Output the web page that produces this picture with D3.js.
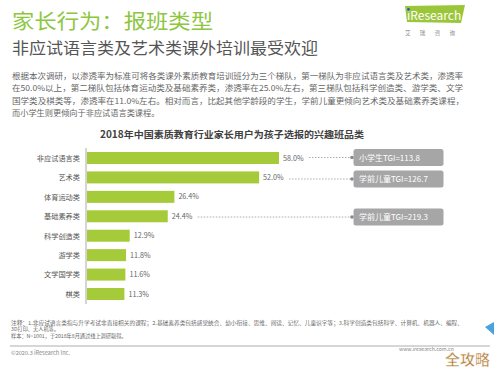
<!DOCTYPE html>
<html><head><meta charset="utf-8">
<script src="https://cdn.jsdelivr.net/npm/d3@7"></script>
<style>body{margin:0;background:#fff}svg{display:block}text{font-family:"Noto Sans CJK SC","Noto Sans",sans-serif}</style>
</head><body>
<svg id="c" width="500" height="369"></svg>
<script>
const categories = ["非应试语言类","艺术类","体育运动类","基础素养类","科学创造类","游学类","文学国学类","棋类"];
const values = [58.0,52.0,26.4,24.4,12.9,11.8,11.6,11.3];
const tgiCategories = ["非应试语言类","艺术类","基础素养类"];
const tgiLabels = ["小学生TGI=113.8","学前儿童TGI=126.7","学前儿童TGI=219.3"];
const tgiBoxY = [157.5, 179, 217];
const chartTitle = "2018年中国素质教育行业家长用户为孩子选报的兴趣班品类";
const paragraph = [
 "根据本次调研，以渗透率为标准可将各类课外素质教育培训班分为三个梯队，第一梯队为非应试语言类及艺术类，渗透率",
 "在50.0%以上，第二梯队包括体育运动类及基础素养类，渗透率在25.0%左右，第三梯队包括科学创造类、游学类、文学",
 "国学类及棋类等，渗透率在11.0%左右。相对而言，比起其他学龄段的学生，学前儿童更倾向艺术类及基础素养类课程，",
 "而小学生则更倾向于非应试语言类课程。"
];
const notes = [
 "注释：1.非应试语言类指与升学考试非直接相关的课程；2.基础素养类包括感觉统合、幼小衔接、思维、阅读、记忆、儿童识字等；3.科学创造类包括科学、计算机、机器人、编程、",
 "3D打印、无人机等。",
 "样本：N=1001，于2018年8月通过线上调研取得。"
];

const svg = d3.select("#c");
const green = "#a6cb3a";

// Header
svg.append("text").attr("x",12).attr("y",29).attr("font-size",20).attr("fill","#8dc63f")
  .attr("textLength",201).attr("lengthAdjust","spacingAndGlyphs").text("家长行为：报班类型");
svg.append("text").attr("x",12).attr("y",54).attr("font-size",16).attr("fill","#555")
  .attr("textLength",306).attr("lengthAdjust","spacingAndGlyphs").text("非应试语言类及艺术类课外培训最受欢迎");

// Logo
svg.append("path").attr("d","M405,6 L465,5 L461,23 L407,22 Z").attr("fill","#9cc63a");
svg.append("text").attr("x",407).attr("y",20).attr("font-size",12).attr("fill","#fff")
  .attr("font-family","Liberation Sans, sans-serif").text("iResearch");
svg.append("circle").attr("cx",408.5).attr("cy",9.5).attr("r",1.4).attr("fill","#1f5fae");
svg.append("text").attr("x",405).attr("y",35).attr("font-size",5.5).attr("fill","#888")
  .attr("textLength",50).attr("lengthAdjust","spacing").text("艾瑞咨询");

// Paragraph
const pw = [451, 451, 452, null];
paragraph.forEach((t,i)=>{
  const tx = svg.append("text").attr("x",12).attr("y",79+i*12.3).attr("font-size",8.2).attr("fill","#666").text(t);
  if(pw[i]) tx.attr("textLength",pw[i]).attr("lengthAdjust","spacingAndGlyphs");
});

// Chart title
svg.append("text").attr("x",232).attr("y",138).attr("text-anchor","middle").attr("font-size",9.6)
  .attr("font-weight","bold").attr("fill","#404040").attr("textLength",264).attr("lengthAdjust","spacingAndGlyphs").text(chartTitle);

// Scales
const x = d3.scaleLinear().domain([0,100]).range([87,418]);
const y = d3.scalePoint().domain(categories).range([158,294]);
const bh = 12;

// Bars
svg.append("g").selectAll("rect").data(values).join("rect")
  .attr("x",x(0)).attr("y",(d,i)=>y(categories[i])-bh/2)
  .attr("width",d=>x(d)-x(0)).attr("height",bh).attr("fill",green);

// Axis
const ax = svg.append("g").attr("transform",`translate(86,0)`)
  .call(d3.axisLeft(y).tickSize(0).tickPadding(6));
ax.select(".domain").attr("d","M0,148V304").attr("stroke","#aaa");
ax.selectAll("text").attr("font-size",7.2).attr("fill","#555").attr("font-family","Noto Sans CJK SC, sans-serif");

// Value labels
const fmt = d3.format(".1f");
svg.append("g").selectAll("text").data(values).join("text")
  .attr("x",d=>x(d)+4).attr("y",(d,i)=>y(categories[i])+2.6)
  .attr("font-size",7.2).attr("fill","#666").text(d=>fmt(d)+"%");

// TGI callouts
tgiCategories.forEach((c,i)=>{
  const idx = categories.indexOf(c);
  const yy = tgiBoxY[i];
  const x0 = x(values[idx]) + 30;
  svg.append("line").attr("x1",x0).attr("x2",352).attr("y1",yy).attr("y2",yy)
    .attr("stroke","#999").attr("stroke-width",0.8).attr("stroke-dasharray","1.5,1.5");
  svg.append("circle").attr("cx",352).attr("cy",yy).attr("r",1.8).attr("fill","#888");
  svg.append("rect").attr("x",353.5).attr("y",yy-8.5).attr("width",90).attr("height",17).attr("rx",2.5).attr("fill","#a6a6a6");
  svg.append("text").attr("x",359).attr("y",yy+3).attr("font-size",8).attr("fill","#fff").text(tgiLabels[i]);
});

// Notes
const nw = [452, null, null];
[324.5,331,338].forEach((yy,i)=>{
  const t = svg.append("text").attr("x",11).attr("y",yy).attr("font-size",5.2).attr("fill","#666").text(notes[i]);
  if(nw[i]) t.attr("textLength",nw[i]).attr("lengthAdjust","spacingAndGlyphs");
});
svg.append("line").attr("x1",10).attr("x2",490).attr("y1",346).attr("y2",346).attr("stroke","#999").attr("stroke-width",0.8);
svg.append("text").attr("x",11).attr("y",355).attr("font-size",5.6).attr("fill","#888").text("©2020.3 iResearch Inc.");
svg.append("text").attr("x",399).attr("y",350.8).attr("font-size",5.2).attr("fill","#888").text("www.iresearch.com.cn");

// Watermark
svg.append("path").attr("d","M485,327 L494,322 L494,335 Z").attr("fill","#4aa3df");
svg.append("text").attr("x",445).attr("y",364.5).attr("font-size",15).attr("font-weight","bold")
  .attr("fill","#b5843f").attr("stroke","#fff").attr("stroke-width",0.5).text("全攻略");
</script>
</body></html>
